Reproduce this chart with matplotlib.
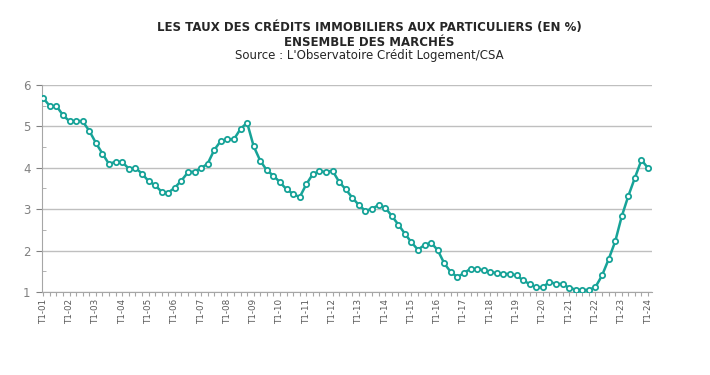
import numpy as np
import matplotlib.pyplot as plt
from matplotlib.ticker import MultipleLocator

years = list(range(2001, 2025))
tick_labels = ['T1-%02d' % (y % 100) for y in years]

rates = [
    5.68, 5.49, 5.49, 5.27,
    5.12, 5.14, 5.12, 4.89,
    4.60, 4.34, 4.09, 4.15,
    4.14, 3.98, 4.00, 3.86,
    3.68, 3.58, 3.42, 3.40,
    3.52, 3.69, 3.89, 3.91,
    3.99, 4.10, 4.43, 4.65,
    4.69, 4.69, 4.94, 5.09,
    4.52, 4.17, 3.94, 3.81,
    3.65, 3.48, 3.37, 3.29,
    3.60, 3.85, 3.92, 3.90,
    3.93, 3.66, 3.48, 3.28,
    3.10, 2.96, 3.01, 3.10,
    3.04, 2.84, 2.63, 2.41,
    2.20, 2.02, 2.14, 2.19,
    2.01, 1.69, 1.48, 1.36,
    1.46, 1.56, 1.56, 1.52,
    1.48, 1.46, 1.43, 1.44,
    1.40, 1.28, 1.19, 1.11,
    1.12, 1.24, 1.20, 1.19,
    1.10, 1.06, 1.05, 1.05,
    1.12, 1.40, 1.79, 2.22,
    2.83, 3.32, 3.76, 4.19,
    3.99,
]

teal = '#17a398'
grey = '#a6a6a6'
x = np.arange(len(rates))

fig = plt.figure(figsize=(7.1, 3.75), dpi=100)
ax = fig.add_axes([41.7 / 710, 1 - 292 / 375, (652 - 41.7) / 710, (292 - 85) / 375])

ax.plot(x, rates, color=teal, lw=1.8, marker='o', ms=3.8, mfc='white',
        mec=teal, mew=1.3, zorder=3)

ax.set_xlim(-0.25, 92.6)
ax.set_ylim(1, 6)
ax.set_xticks(np.arange(0, len(rates), 4))
ax.set_xticklabels(tick_labels, rotation=90, fontsize=6.3, color='#595959')
ax.xaxis.set_minor_locator(MultipleLocator(1))
ax.yaxis.set_major_locator(MultipleLocator(1))
ax.yaxis.set_minor_locator(MultipleLocator(0.5))
ax.tick_params(axis='y', labelsize=8.5, colors='#808080', length=4, width=0.8, pad=4)
ax.tick_params(axis='y', which='minor', length=3, color=grey, direction='in')
ax.tick_params(axis='x', which='both', length=3, color=grey, width=0.8, pad=2)
ax.tick_params(axis='x', which='major', labelcolor='#595959')

ax.grid(axis='y', color='#bfbfbf', lw=1)
ax.set_axisbelow(True)
for s in ['top', 'right']:
    ax.spines[s].set_visible(False)
for s in ['left', 'bottom']:
    ax.spines[s].set_color(grey)

fig.text(0.52, 1 - 28 / 375, "LES TAUX DES CRÉDITS IMMOBILIERS AUX PARTICULIERS (EN %)",
         ha='center', va='center', fontsize=8.5, fontweight='bold', color='#262626')
fig.text(0.52, 1 - 42 / 375, "ENSEMBLE DES MARCHÉS",
         ha='center', va='center', fontsize=8.5, fontweight='bold', color='#262626')
fig.text(0.52, 1 - 56 / 375, "Source : L'Observatoire Crédit Logement/CSA",
         ha='center', va='center', fontsize=8.5, color='#262626')

fig.savefig('out.png', dpi=100)
